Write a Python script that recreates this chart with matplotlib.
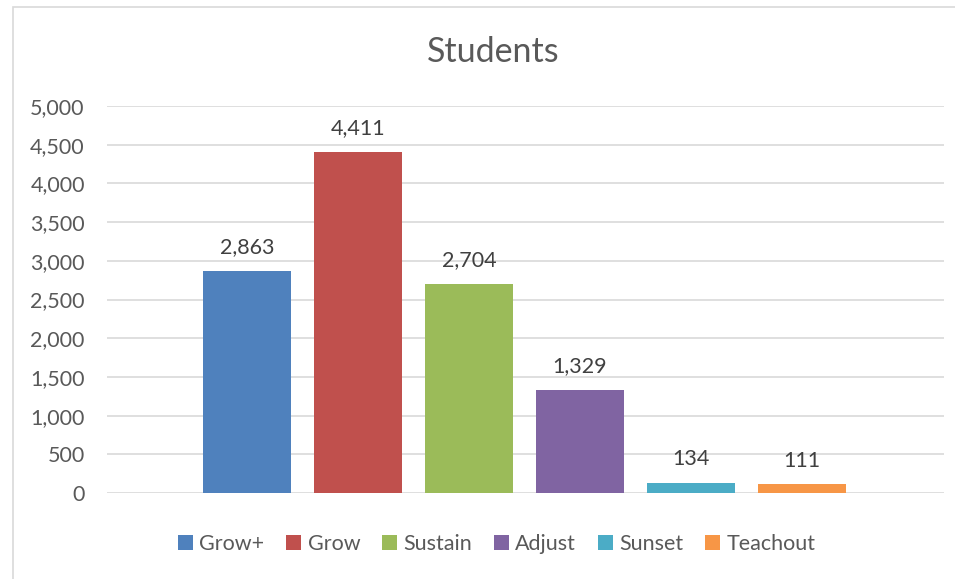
import matplotlib.pyplot as plt
from matplotlib.patches import Rectangle

# Excel-style single-category bar chart
groups = ["Grow+", "Grow", "Sustain", "Adjust", "Sunset", "Teachout"]
students = [2863, 4411, 2704, 1329, 134, 111]
colors = ["#4F81BD", "#C0504D", "#9BBB59", "#8064A2", "#4BACC6", "#F79646"]
yticks = [0, 500, 1000, 1500, 2000, 2500, 3000, 3500, 4000, 4500, 5000]

plt.rcParams['font.family'] = ['Lato', 'DejaVu Sans']

fig = plt.figure(figsize=(9.55, 5.79), dpi=100)
ax = fig.add_axes([107 / 955, 1 - 493 / 579, 837 / 955, 387 / 579])

# chart border
fig.patches.append(Rectangle((13 / 955, -0.02), 1.0, 1 - 7 / 579 + 0.02,
                             transform=fig.transFigure, fill=False,
                             edgecolor="#D9D9D9", linewidth=1.2))

x = list(range(len(groups)))
bars = ax.bar(x, students, width=0.79, color=colors, label=groups, zorder=3)

for xi, v in zip(x, students):
    ax.annotate(f"{v:,}", (xi, v), xytext=(0, 10), textcoords="offset points",
                ha="center", va="bottom", fontsize=15.5, color="#404040")

ax.set_xlim(-1.261, 6.279)
ax.set_ylim(0, 5000)
ax.set_yticks(yticks)
ax.set_yticklabels([f"{t:,}" for t in yticks])
ax.set_xticks([])
ax.tick_params(axis="y", length=0, pad=16, labelsize=15.5, labelcolor="#595959")
ax.grid(axis="y", color="#D9D9D9", linewidth=1.2, zorder=0)
for s in ax.spines.values():
    s.set_visible(False)

fig.text(0.516, 1 - 52 / 579, "Students", ha="center", va="center",
         fontsize=24.5, color="#595959")

fig.legend(bars, groups, loc="center", bbox_to_anchor=(0.52, 1 - 544 / 579),
           ncol=6, frameon=False, fontsize=15.5, labelcolor="#595959",
           handlelength=0.7, handleheight=0.7, handletextpad=0.3,
           columnspacing=1.0)

fig.savefig("out.png", dpi=100)
